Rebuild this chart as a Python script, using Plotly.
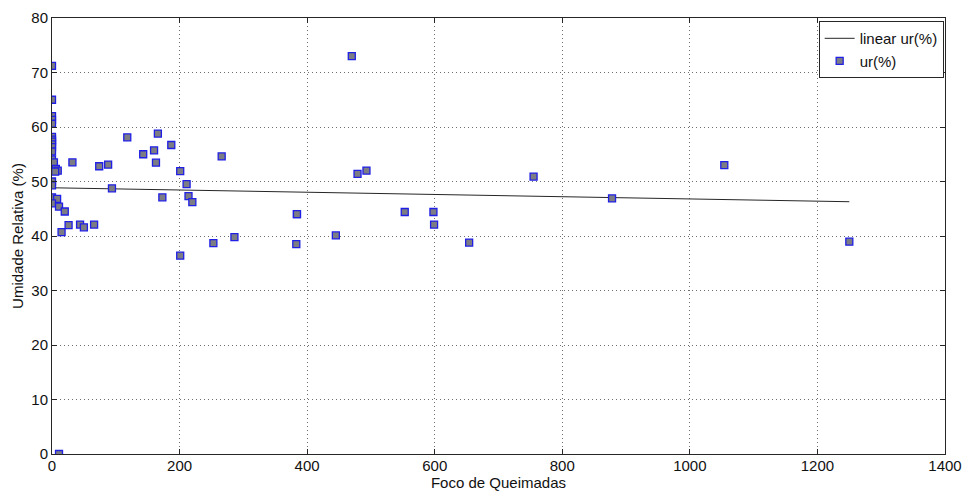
import plotly.graph_objects as go

# Fire hotspots (Foco de Queimadas) vs. relative humidity (%)
focos = [0, 0, 0, 0, 0, 0, 0, 0, 0, 0, 0, 0, 3, 6, 9, 5,
         0, 0, 0, 8, 0, 11, 20, 15, 26, 44, 50, 66, 32, 11,
         118, 166, 187, 143, 160, 163, 74, 88, 94, 266, 201, 211, 173, 214, 220,
         384, 286, 253, 383, 201,
         470, 479, 493, 755, 878, 384, 445, 553, 598, 599, 654, 1054, 1250]
umidade = [71.2, 65.0, 62.0, 61.3, 60.6, 58.2, 57.7, 57.3, 56.8, 56.3, 55.5, 54.0, 53.5, 52.3, 52.0, 51.8,
           50.0, 49.3, 47.1, 46.8, 46.0, 45.4, 44.5, 40.7, 42.0, 42.1, 41.6, 42.1, 53.5, 0.0,
           58.1, 58.8, 56.7, 55.0, 55.7, 53.45, 52.8, 53.1, 48.75, 54.6, 51.9, 49.5, 47.1, 47.3, 46.2,
           44.0, 39.8, 38.7, 38.5, 36.4,
           73.0, 51.4, 52.0, 50.9, 46.9, 44.0, 40.1, 44.4, 44.4, 42.1, 38.8, 53.0, 38.95]

# basic-fitting linear trend: ur = intercept + slope * focos
fit_intercept = 48.85
fit_slope = -0.00205
fit_x = [0, 1250]
fit_y = [fit_intercept + fit_slope * v for v in fit_x]

x_ticks = [0, 200, 400, 600, 800, 1000, 1200, 1400]
y_ticks = [0, 10, 20, 30, 40, 50, 60, 70, 80]

FONT = "Liberation Sans, Arial"

fig = go.Figure()
fig.add_trace(go.Scatter(
    x=fit_x, y=fit_y, mode="lines", name="linear ur(%)",
    line=dict(color="#262626", width=1),
))
fig.add_trace(go.Scatter(
    x=focos, y=umidade, mode="markers", name="ur(%)",
    marker=dict(symbol="square", size=7, color="#7c7c84",
                line=dict(color="#1f1fe6", width=1.3)),
))

axis_common = dict(
    showline=True, linecolor="#262626", linewidth=1, mirror="ticks",
    ticks="inside", ticklen=5, tickcolor="#262626",
    showgrid=True, gridcolor="#6e6e6e", griddash="1px,3px", gridwidth=1,
    zeroline=False, automargin=False,
    tickfont=dict(family=FONT, size=15, color="#111111"),
    title_font=dict(family=FONT, size=15, color="#111111"),
)

fig.update_xaxes(range=[0, 1400], tickvals=x_ticks, title_text="Foco de Queimadas",
                 title_standoff=1, ticklabelstandoff=-2, **axis_common)
fig.update_yaxes(range=[0, 80], tickvals=y_ticks, title_text="Umidade Relativa (%)",
                 title_standoff=4, **axis_common)

fig.update_layout(
    width=966, height=492,
    margin=dict(l=52, r=21, t=18, b=38),
    paper_bgcolor="white", plot_bgcolor="white",
    showlegend=True,
    legend=dict(x=0.9985, y=0.993, xanchor="right", yanchor="top",
                bgcolor="white", bordercolor="#262626", borderwidth=1,
                font=dict(family=FONT, size=15, color="#111111"),
                tracegroupgap=0, itemwidth=30),
)

fig.write_html("out.html")
